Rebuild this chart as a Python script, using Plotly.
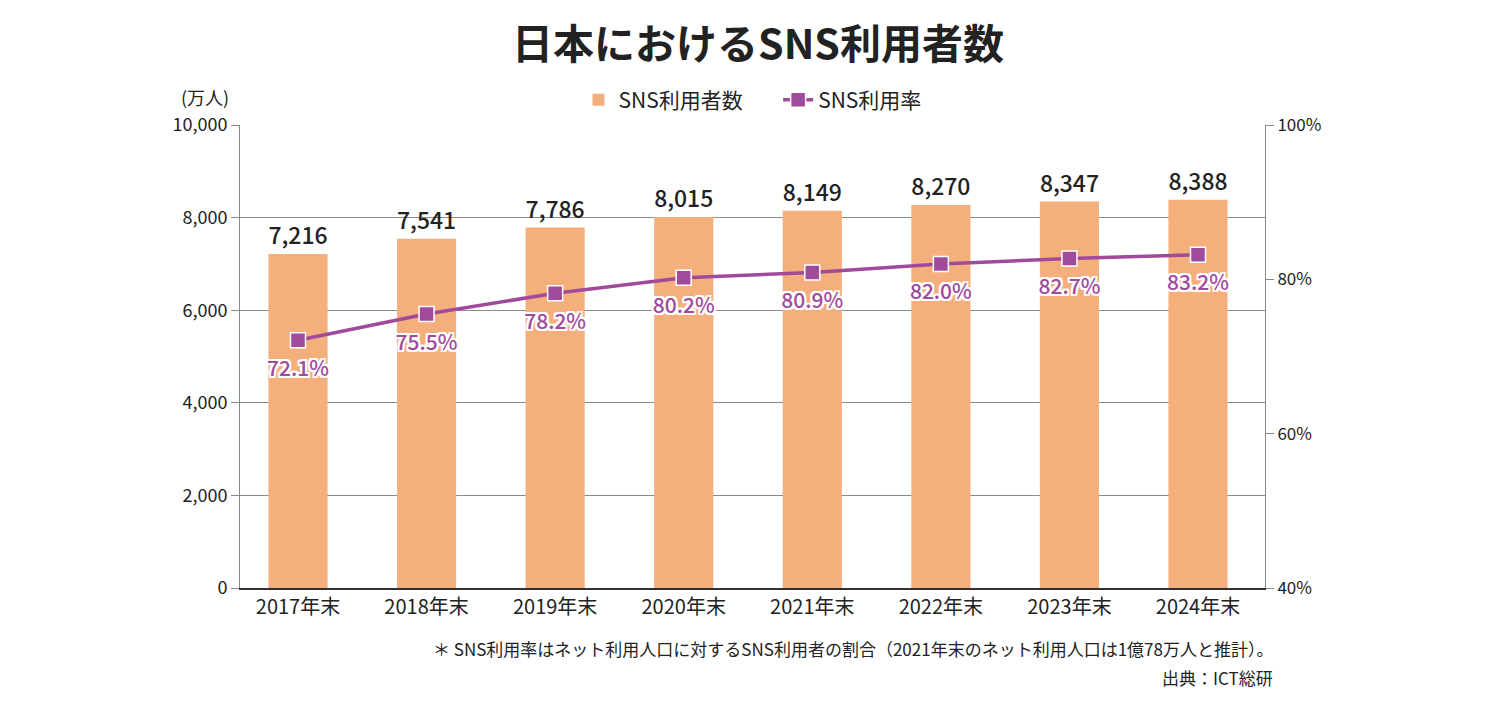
import plotly.graph_objects as go

years = ["2017年末", "2018年末", "2019年末", "2020年末", "2021年末", "2022年末", "2023年末", "2024年末"]
users = [7216, 7541, 7786, 8015, 8149, 8270, 8347, 8388]
rate = [72.1, 75.5, 78.2, 80.2, 80.9, 82.0, 82.7, 83.2]
left_ticks = [0, 2000, 4000, 6000, 8000, 10000]
right_ticks = [40, 60, 80, 100]

FONT = "Noto Sans CJK JP"
BAR = "#F5AF7D"
PURPLE = "#A04A9C"
WHITE_OUTLINE = ("-2px -2px 0 #fff, 2px -2px 0 #fff, -2px 2px 0 #fff, 2px 2px 0 #fff, "
                 "0 2px 0 #fff, 0 -2px 0 #fff, 2px 0 0 #fff, -2px 0 0 #fff")

fig = go.Figure()
fig.add_trace(go.Bar(
    x=years, y=users, name="SNS利用者数　  ",
    marker=dict(color=BAR, line=dict(width=0)),
    width=0.46,
    text=[f"{v:,}" for v in users], textposition="outside",
    textfont=dict(size=24, color="#222", family=FONT, weight=500),
    cliponaxis=False,
))
fig.add_trace(go.Scatter(
    x=years, y=rate, name="SNS利用率", yaxis="y2",
    mode="lines+markers",
    line=dict(color=PURPLE, width=3.5),
    marker=dict(symbol="square", size=15, color=PURPLE, line=dict(color="white", width=1.5)),
    cliponaxis=False,
))
# percentage labels (same data, transparent larger marker for label offset)
fig.add_trace(go.Scatter(
    x=years, y=rate, yaxis="y2", showlegend=False, hoverinfo="skip",
    mode="markers+text",
    marker=dict(size=30, color="rgba(0,0,0,0)"),
    text=[f"{v:.1f}%" for v in rate], textposition="bottom center",
    textfont=dict(size=21, color=PURPLE, family=FONT, weight=500, shadow=WHITE_OUTLINE),
    cliponaxis=False,
))

fig.update_layout(
    width=1500, height=706,
    paper_bgcolor="white", plot_bgcolor="white",
    margin=dict(l=232, r=243, t=117, b=126),
    font=dict(family=FONT, color="#222"),
    title=dict(text="<b>日本におけるSNS利用者数</b>", x=0.5, xanchor="center", y=0.9476, yanchor="middle",
               font=dict(size=41, family=FONT, color="#222")),
    showlegend=True,
    legend=dict(orientation="h", x=0.5, xanchor="center", y=1.054, yanchor="middle",
                font=dict(size=21, family=FONT), traceorder="normal"),
    xaxis=dict(range=[-0.451, 7.521], showline=True, linecolor="#333", linewidth=2, ticks="",
               tickfont=dict(size=20, family=FONT), showgrid=False, zeroline=False),
    yaxis=dict(range=[0, 10000], tickvals=left_ticks, ticktext=[f"{v:,}" for v in left_ticks],
               showline=True, linecolor="#888", linewidth=1, ticks="outside", ticklen=8, tickcolor="#888",
               showgrid=True, gridcolor="#8a8a8a", gridwidth=1, zeroline=False,
               tickfont=dict(size=18, family=FONT)),
    yaxis2=dict(range=[40, 100], overlaying="y", side="right", tickvals=right_ticks,
                ticktext=[f"{v}%" for v in right_ticks],
                showline=True, linecolor="#888", linewidth=1, ticks="outside", ticklen=8, tickcolor="#888",
                showgrid=False, zeroline=False, tickfont=dict(size=17, family=FONT)),
)

fig.add_annotation(text="(万人)", xref="paper", yref="paper", x=-0.034, y=1.0605, xanchor="center", yanchor="middle",
                   showarrow=False, font=dict(size=18, family=FONT))
fig.add_annotation(text="＊ SNS利用率はネット利用人口に対するSNS利用者の割合（2021年末のネット利用人口は1億78万人と推計）。",
                   xref="paper", yref="paper", x=1.0098, y=-0.1296, xanchor="right", yanchor="middle",
                   showarrow=False, font=dict(size=17, family=FONT))
fig.add_annotation(text="出典：ICT総研",
                   xref="paper", yref="paper", x=1.0098, y=-0.194, xanchor="right", yanchor="middle",
                   showarrow=False, font=dict(size=17, family=FONT))

fig.write_html("out.html")
